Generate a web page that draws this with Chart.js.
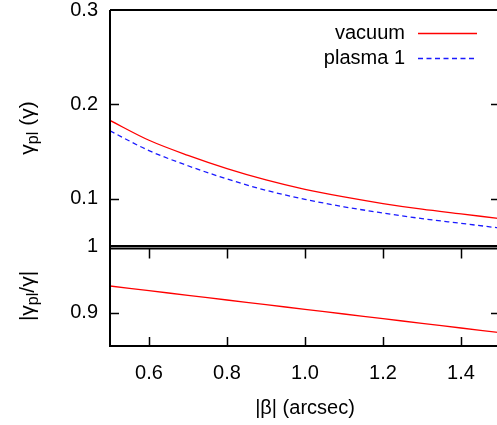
<!DOCTYPE html>
<html>
<head>
<meta charset="utf-8">
<script src="https://cdn.jsdelivr.net/npm/chart.js@4/dist/chart.umd.min.js"></script>
<style>
  html, body { margin: 0; padding: 0; background: #fff; overflow: hidden; }
  #wrap { width: 497px; height: 425px; overflow: hidden; }
</style>
</head>
<body>
<div id="wrap"><canvas id="chart" width="503" height="425"></canvas></div>
<script>
// values
const betaValues = [0.5, 0.6, 0.7, 0.8, 0.9, 1.0, 1.1, 1.2, 1.3, 1.4, 1.5];
const vacuumValues = [0.183, 0.162, 0.146, 0.132, 0.120, 0.110, 0.102, 0.095, 0.089, 0.084, 0.079];
const plasmaValues = [0.172, 0.151, 0.135, 0.121, 0.109, 0.0995, 0.0915, 0.085, 0.079, 0.074, 0.069];
const ratioValues = [0.940, 0.933, 0.926, 0.919, 0.912, 0.905, 0.898, 0.891, 0.884, 0.877, 0.870];
const seriesLabels = ['vacuum', 'plasma 1'];
const gammaTicks = [0.1, 0.2, 0.3];
const ratioTicks = [0.9, 1];
const betaTicks = [0.6, 0.8, 1, 1.2, 1.4];

const FONT = '"Liberation Sans", Arial, sans-serif';
const TICK_LEN = 9;

function toPoints(ys) {
	return betaValues.map((b, i) => ({ x: b, y: ys[i] }));
}

function fixedTicks(list) {
	return (scale) => {
		scale.ticks = list.map((v) => ({ value: v }));
	};
}

// fixed axis width, and no extra room for labels hanging over the ends
function fitY(scale) {
	scale.width = 110;
	scale.paddingTop = 0;
	scale.paddingBottom = 0;
}

// text with subscripts, drawn rotated (reads bottom to top)
function drawRotatedRich(ctx, parts, cx, cy) {
	ctx.save();
	ctx.translate(cx, cy);
	ctx.rotate(-Math.PI / 2);
	let total = 0;
	for (const p of parts) {
		ctx.font = (p.sub ? 16 : 21) + 'px ' + FONT;
		p.w = ctx.measureText(p.t).width;
		total += p.w;
	}
	let x = -total / 2;
	ctx.textAlign = 'left';
	ctx.textBaseline = 'middle';
	ctx.fillStyle = '#000';
	for (const p of parts) {
		ctx.font = (p.sub ? 16 : 21) + 'px ' + FONT;
		ctx.fillText(p.t, x, p.sub ? 6 : 0);
		x += p.w;
	}
	ctx.restore();
}

const framePlugin = {
	id: 'frame',
	afterDraw(chart) {
		const ctx = chart.ctx;
		const area = chart.chartArea;
		const yTop = chart.scales.y;
		const yBot = chart.scales.yr;
		const xs = chart.scales.x;
		const split = yTop.bottom;

		ctx.save();
		ctx.strokeStyle = '#000';
		ctx.lineWidth = 2;
		ctx.beginPath();
		ctx.moveTo(area.left, area.top);
		ctx.lineTo(area.right, area.top);
		ctx.moveTo(area.left, area.top);
		ctx.lineTo(area.left, area.bottom);
		ctx.lineTo(area.right, area.bottom);
		ctx.lineTo(area.right, area.top);
		ctx.moveTo(area.left, split);
		ctx.lineTo(area.right, split);
		ctx.moveTo(area.left, split + 2.5);
		ctx.lineTo(area.right, split + 2.5);
		ctx.stroke();

		// inward tick marks
		ctx.lineWidth = 1.5;
		ctx.beginPath();
		for (const v of gammaTicks.slice(0, -1)) {
			const py = Math.round(yTop.getPixelForValue(v)) + 0.5;
			ctx.moveTo(area.left, py);
			ctx.lineTo(area.left + TICK_LEN, py);
			ctx.moveTo(area.right, py);
			ctx.lineTo(area.right - TICK_LEN, py);
		}
		for (const v of ratioTicks.slice(0, -1)) {
			const py = Math.round(yBot.getPixelForValue(v)) + 0.5;
			ctx.moveTo(area.left, py);
			ctx.lineTo(area.left + TICK_LEN, py);
			ctx.moveTo(area.right, py);
			ctx.lineTo(area.right - TICK_LEN, py);
		}
		for (const v of betaTicks) {
			const px = Math.round(xs.getPixelForValue(v)) + 0.5;
			ctx.moveTo(px, area.bottom);
			ctx.lineTo(px, area.bottom - TICK_LEN);
			ctx.moveTo(px, split + 2.5);
			ctx.lineTo(px, split + 2.5 + TICK_LEN + 1);
		}
		ctx.stroke();

		// legend, gnuplot style: text then sample line
		ctx.font = '20px ' + FONT;
		ctx.textAlign = 'right';
		ctx.textBaseline = 'middle';
		ctx.fillStyle = '#000';
		chart.data.datasets.slice(0, 2).forEach((ds, i) => {
			const ly = area.top + 23 + i * 25;
			ctx.fillText(ds.label, 405, ly);
			ctx.strokeStyle = ds.borderColor;
			ctx.lineWidth = ds.borderWidth;
			ctx.setLineDash(ds.borderDash || []);
			ctx.beginPath();
			ctx.moveTo(418, ly + 0.5);
			ctx.lineTo(477, ly + 0.5);
			ctx.stroke();
			ctx.setLineDash([]);
		});

		// axis titles
		ctx.textAlign = 'center';
		ctx.fillText('|β| (arcsec)', (area.left + area.right) / 2, 408);
		drawRotatedRich(ctx, [{ t: 'γ' }, { t: 'pl', sub: true }, { t: ' (γ)' }], 28, (yTop.top + yTop.bottom) / 2);
		drawRotatedRich(ctx, [{ t: '|γ' }, { t: 'pl', sub: true }, { t: '/γ|' }], 28, (yBot.top + yBot.bottom) / 2);
		ctx.restore();
	},
};

const tickFont = { family: FONT, size: 20 };

new Chart(document.getElementById('chart'), {
	type: 'line',
	data: {
		datasets: [
			{
				label: seriesLabels[0],
				data: toPoints(vacuumValues),
				borderColor: '#ff0000',
				borderWidth: 1.3,
				yAxisID: 'y',
			},
			{
				label: seriesLabels[1],
				data: toPoints(plasmaValues),
				borderColor: '#1a1aff',
				borderWidth: 1.3,
				borderDash: [5, 3.5],
				yAxisID: 'y',
			},
			{
				label: 'ratio',
				data: toPoints(ratioValues),
				borderColor: '#ff0000',
				borderWidth: 1.3,
				yAxisID: 'yr',
			},
		],
	},
	options: {
		responsive: false,
		animation: false,
		layout: { padding: { left: 0, top: 10, right: 3, bottom: 0 } },
		elements: {
			point: { radius: 0 },
			line: { cubicInterpolationMode: 'monotone' },
		},
		plugins: {
			legend: { display: false },
			tooltip: { enabled: false },
		},
		scales: {
			x: {
				type: 'linear',
				min: 0.5,
				max: 1.5,
				afterBuildTicks: fixedTicks(betaTicks),
				afterFit: (s) => { s.height = 79; s.paddingLeft = 0; s.paddingRight = 0; },
				grid: { display: false, drawTicks: false },
				border: { display: false },
				ticks: { font: tickFont, color: '#000', padding: 15, maxRotation: 0 },
			},
			yr: {
				type: 'linear',
				position: 'left',
				stack: 'panels',
				stackWeight: 100,
				min: 0.85,
				max: 1.0,
				afterBuildTicks: fixedTicks(ratioTicks),
				afterFit: fitY,
				grid: { display: false, drawTicks: false },
				border: { display: false },
				ticks: { font: tickFont, color: '#000', padding: 12, callback: (v) => String(v) },
			},
			y: {
				type: 'linear',
				position: 'left',
				stack: 'panels',
				stackWeight: 236,
				min: 0.05,
				max: 0.3,
				afterBuildTicks: fixedTicks(gammaTicks),
				afterFit: fitY,
				grid: { display: false, drawTicks: false },
				border: { display: false },
				ticks: { font: tickFont, color: '#000', padding: 12, callback: (v) => String(v) },
			},
		},
	},
	plugins: [framePlugin],
});
</script>
</body>
</html>
